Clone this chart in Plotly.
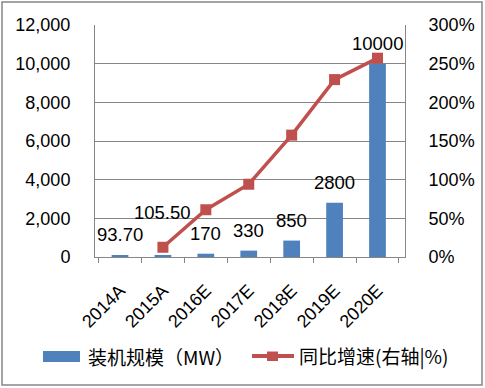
import plotly.graph_objects as go

categories = ["2014A", "2015A", "2016E", "2017E", "2018E", "2019E", "2020E"]
capacity_mw = [93.7, 105.5, 170, 330, 850, 2800, 10000]
capacity_labels = ["93.70", "105.50", "170", "330", "850", "2800", "10000"]
growth_cats = ["2015A", "2016E", "2017E", "2018E", "2019E", "2020E"]
growth_rate = [0.126, 0.611, 0.941, 1.576, 2.294, 2.571]
label_shift = [8, 30, 8, 8, 8, 8, 8]
legend_names = ["装机规模（MW）", "同比增速(右轴|%)"]

W, H = 485, 388
ml, mr, mt, mb = 95, 80, 25, 131
pw, ph = W - ml - mr, H - mt - mb
BAR_C, LINE_C, GRID_C = "#4F81BD", "#C0504D", "#868686"


def px(x):
    return (x - ml) / pw


def py(y):
    return (H - mb - y) / ph


fig = go.Figure()
fig.add_trace(go.Bar(
    x=categories, y=capacity_mw, name=legend_names[0],
    marker=dict(color=BAR_C, line=dict(width=0)), width=0.39,
))
fig.add_trace(go.Scatter(
    x=growth_cats, y=growth_rate, name=legend_names[1], yaxis="y2",
    mode="lines+markers",
    line=dict(color=LINE_C, width=3.5),
    marker=dict(symbol="square", size=11, color=LINE_C),
))

for c, v, t, s in zip(categories, capacity_mw, capacity_labels, label_shift):
    fig.add_annotation(x=c, y=v, text=t, showarrow=False, yanchor="bottom",
                       yshift=s, font=dict(size=18.5, color="#000000"))

font = "Liberation Sans, Arial, sans-serif"
cjk = "Noto Sans CJK SC, " + font
fig.update_layout(
    width=W, height=H,
    margin=dict(l=ml, r=mr, t=mt, b=mb, autoexpand=False),
    paper_bgcolor="white", plot_bgcolor="white",
    font=dict(family=font, size=18, color="#000000"),
    showlegend=False,
    xaxis=dict(type="category", tickangle=-45, showline=True, linecolor=GRID_C,
               linewidth=1, ticks="outside", tickson="boundaries", ticklen=5,
               tickcolor=GRID_C, showgrid=False, automargin=False,
               ticklabelstandoff=15, tickfont=dict(size=18)),
    yaxis=dict(range=[0, 12000], dtick=2000, tickformat=",d", showgrid=True,
               gridcolor=GRID_C, gridwidth=1, showline=True, linecolor=GRID_C,
               zeroline=False, ticks="", automargin=False, ticklabelstandoff=20,
               tickfont=dict(size=18)),
    yaxis2=dict(range=[0, 3], dtick=0.5, tickformat=".0%", overlaying="y", side="right",
                showgrid=False, showline=True, linecolor=GRID_C, zeroline=False,
                ticks="", automargin=False, ticklabelstandoff=19,
                tickfont=dict(size=18)),
)

# outer chart border
fig.add_shape(type="rect", xref="paper", yref="paper",
              x0=px(2), x1=px(482), y0=py(385), y1=py(2),
              line=dict(color=GRID_C, width=1.5), layer="below")

# legend drawn manually (wide swatches like the original)
ly = 356
fig.add_shape(type="rect", xref="paper", yref="paper",
              x0=px(43), x1=px(80), y0=py(362), y1=py(351),
              fillcolor=BAR_C, line=dict(width=0))
fig.add_shape(type="line", xref="paper", yref="paper",
              x0=px(252), x1=px(294), y0=py(ly), y1=py(ly),
              line=dict(color=LINE_C, width=4))
fig.add_shape(type="rect", xref="paper", yref="paper",
              x0=px(267), x1=px(278), y0=py(ly + 5), y1=py(ly - 4.5),
              fillcolor=LINE_C, line=dict(width=0))
fig.add_annotation(xref="paper", yref="paper", x=px(86), y=py(ly), text=legend_names[0],
                   showarrow=False, xanchor="left", yanchor="middle",
                   font=dict(size=19, family=cjk))
fig.add_annotation(xref="paper", yref="paper", x=px(297), y=py(ly), text=legend_names[1],
                   showarrow=False, xanchor="left", yanchor="middle",
                   font=dict(size=19, family=cjk))

fig.write_html("out.html", config={"displayModeBar": False},
               post_script="document.body.style.margin='0';")
